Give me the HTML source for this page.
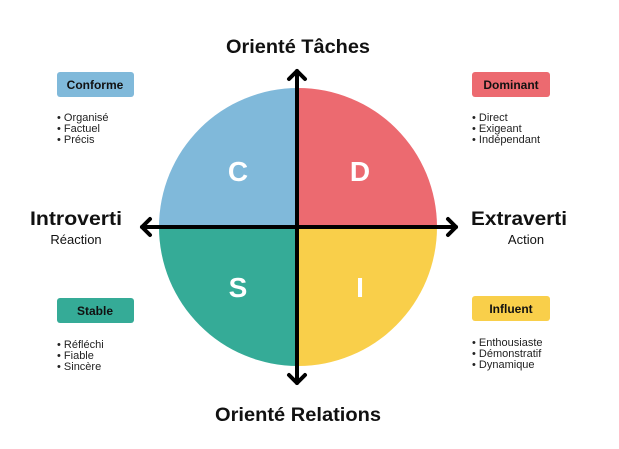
<!DOCTYPE html>
<html><head><meta charset="utf-8"><style>
body{margin:0;width:619px;height:444px;background:#fff;overflow:hidden;font-family:"Liberation Sans",sans-serif;}
</style></head><body>
<svg width="619" height="444" viewBox="0 0 619 444" xmlns="http://www.w3.org/2000/svg" font-family="Liberation Sans, sans-serif">
<path d="M298,227 L298,88 A139,139 0 0 0 159,227 Z" fill="#80b9da"/>
<path d="M298,227 L298,88 A139,139 0 0 1 437,227 Z" fill="#ec6a70"/>
<path d="M298,227 L159,227 A139,139 0 0 0 298,366 Z" fill="#35ab97"/>
<path d="M298,227 L437,227 A139,139 0 0 1 298,366 Z" fill="#f9cf4a"/>
<g stroke="#000" stroke-width="4" fill="none" stroke-linecap="round" stroke-linejoin="round">
<line x1="297" y1="71" x2="297" y2="383"/>
<line x1="142" y1="227" x2="456" y2="227"/>
<polyline points="289,79 297,71 305,79"/>
<polyline points="289,375 297,383 305,375"/>
<polyline points="150,219 142,227 150,235"/>
<polyline points="448,219 456,227 448,235"/>
</g>
<g fill="#fff" font-size="28" font-weight="bold" text-anchor="middle">
<text x="238" y="181">C</text><text x="360" y="181">D</text>
<text x="238" y="297">S</text><text x="360" y="297">I</text>
</g>
<g font-size="19" font-weight="bold" text-anchor="middle" fill="#111">
<text x="298" y="53" textLength="144" lengthAdjust="spacingAndGlyphs">Orienté Tâches</text>
<text x="298" y="421" textLength="166" lengthAdjust="spacingAndGlyphs">Orienté Relations</text>
<text x="76" y="225" textLength="92" lengthAdjust="spacingAndGlyphs">Introverti</text>
<text x="519" y="225" textLength="96" lengthAdjust="spacingAndGlyphs">Extraverti</text>
</g>
<g font-size="13" text-anchor="middle" fill="#111">
<text x="76" y="244">Réaction</text>
<text x="526" y="244">Action</text>
</g>
<rect x="57" y="72" width="77" height="25" rx="3" fill="#80b9da"/>
<rect x="472" y="72" width="78" height="25" rx="3" fill="#ec6a70"/>
<rect x="57" y="298" width="77" height="25" rx="3" fill="#35ab97"/>
<rect x="472" y="296" width="78" height="25" rx="3" fill="#f9cf4a"/>
<g font-size="12" font-weight="bold" text-anchor="middle" fill="#111">
<text x="95" y="89">Conforme</text>
<text x="511" y="89">Dominant</text>
<text x="95" y="315">Stable</text>
<text x="511" y="313">Influent</text>
</g>
<g font-size="11" fill="#222">
<text x="57" y="121">•  Organisé</text><text x="57" y="132">•  Factuel</text><text x="57" y="143">•  Précis</text>
<text x="472" y="121">•  Direct</text><text x="472" y="132">•  Exigeant</text><text x="472" y="143">•  Indépendant</text>
<text x="57" y="348">•  Réfléchi</text><text x="57" y="359">•  Fiable</text><text x="57" y="370">•  Sincère</text>
<text x="472" y="346">•  Enthousiaste</text><text x="472" y="357">•  Démonstratif</text><text x="472" y="368">•  Dynamique</text>
</g>
</svg>
</body></html>
